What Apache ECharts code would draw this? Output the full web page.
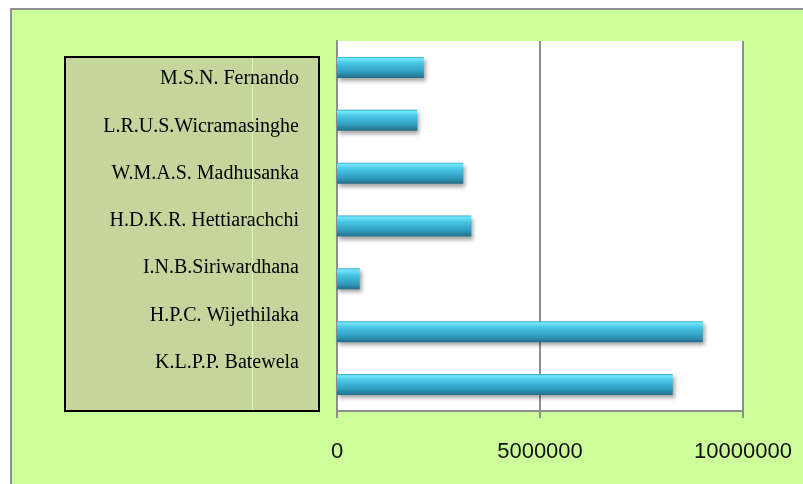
<!DOCTYPE html>
<html>
<head>
<meta charset="utf-8">
<script src="https://cdn.jsdelivr.net/npm/echarts@6/dist/echarts.min.js"></script>
<style>
  html, body { margin: 0; padding: 0; background: #fff; }
  #chart { width: 803px; height: 484px; }
</style>
</head>
<body>
<div id="chart"></div>
<script>
  // names, top to bottom as in the picture
  var names = [
    'M.S.N. Fernando',
    'L.R.U.S.Wicramasinghe',
    'W.M.A.S. Madhusanka',
    'H.D.K.R. Hettiarachchi',
    'I.N.B.Siriwardhana',
    'H.P.C. Wijethilaka',
    'K.L.P.P. Batewela'
  ]
  var values = [2140000, 1980000, 3110000, 3310000, 560000, 9010000, 8270000]
  var axisMax = 10000000
  var axisStep = 5000000

  var chart = echarts.init(document.getElementById('chart'))

  var barColor = new echarts.graphic.LinearGradient(0, 0, 0, 1, [
    {offset: 0, color: '#2fa6c6'},
    {offset: 0.08, color: '#72e8fb'},
    {offset: 0.3, color: '#49c6e6'},
    {offset: 0.7, color: '#2f9fc1'},
    {offset: 1, color: '#236f89'}
  ])

  var option = {
    backgroundColor: '#fff',
    animation: false,
    graphic: [
      // chart area background + border (top / left)
      {type: 'rect', z: -100, shape: {x: 10, y: 8, width: 800, height: 480}, style: {fill: '#ccff99'}},
      {type: 'line', z: -99, shape: {x1: 10, y1: 9, x2: 803, y2: 9}, style: {stroke: '#8f8f8f', lineWidth: 2}},
      {type: 'line', z: -99, shape: {x1: 11, y1: 8, x2: 11, y2: 484}, style: {stroke: '#8f8f8f', lineWidth: 2}},
      // label box
      {type: 'rect', z: -50, shape: {x: 65, y: 57, width: 254, height: 354}, style: {fill: '#c4d69c', stroke: '#000', lineWidth: 2}},
      {type: 'line', z: -49, shape: {x1: 252.5, y1: 58, x2: 252.5, y2: 410}, style: {stroke: '#d6ffa8', lineWidth: 1}}
    ],
    grid: [
      {left: 337, top: 41, width: 406, height: 370, show: true, backgroundColor: '#fff', borderWidth: 0},
      {left: 307, top: 55.4, width: 10, height: 331, show: false}
    ],
    xAxis: [
      {
        type: 'value', gridIndex: 0, min: 0, max: axisMax, interval: axisStep,
        axisLine: {show: true, lineStyle: {color: '#8f8f8f', width: 2}},
        axisTick: {show: true, length: 7, lineStyle: {color: '#8f8f8f', width: 2}},
        axisLabel: {
          color: '#111', fontSize: 22, fontFamily: 'Liberation Sans', margin: 30,
          formatter: function(v) { return String(v) }
        },
        splitLine: {show: true, lineStyle: {color: '#8f8f8f', width: 2}}
      },
      {type: 'value', gridIndex: 1, min: 0, max: 1, show: false}
    ],
    yAxis: [
      {
        type: 'category', gridIndex: 0, inverse: true, data: names,
        axisLine: {show: true, lineStyle: {color: '#8f8f8f', width: 2}},
        axisTick: {show: false},
        axisLabel: {show: false}
      },
      {
        type: 'category', gridIndex: 1, inverse: true, data: names,
        axisLine: {show: false},
        axisTick: {show: false},
        axisLabel: {color: '#000', fontSize: 20, fontFamily: 'Liberation Serif', margin: 8}
      }
    ],
    series: [{
      type: 'bar',
      xAxisIndex: 0,
      yAxisIndex: 0,
      barWidth: 21,
      data: values,
      itemStyle: {
        color: barColor,
        shadowColor: 'rgba(0,0,0,0.35)',
        shadowBlur: 4,
        shadowOffsetX: 2,
        shadowOffsetY: 3
      }
    }]
  }

  chart.setOption(option)
</script>
</body>
</html>
